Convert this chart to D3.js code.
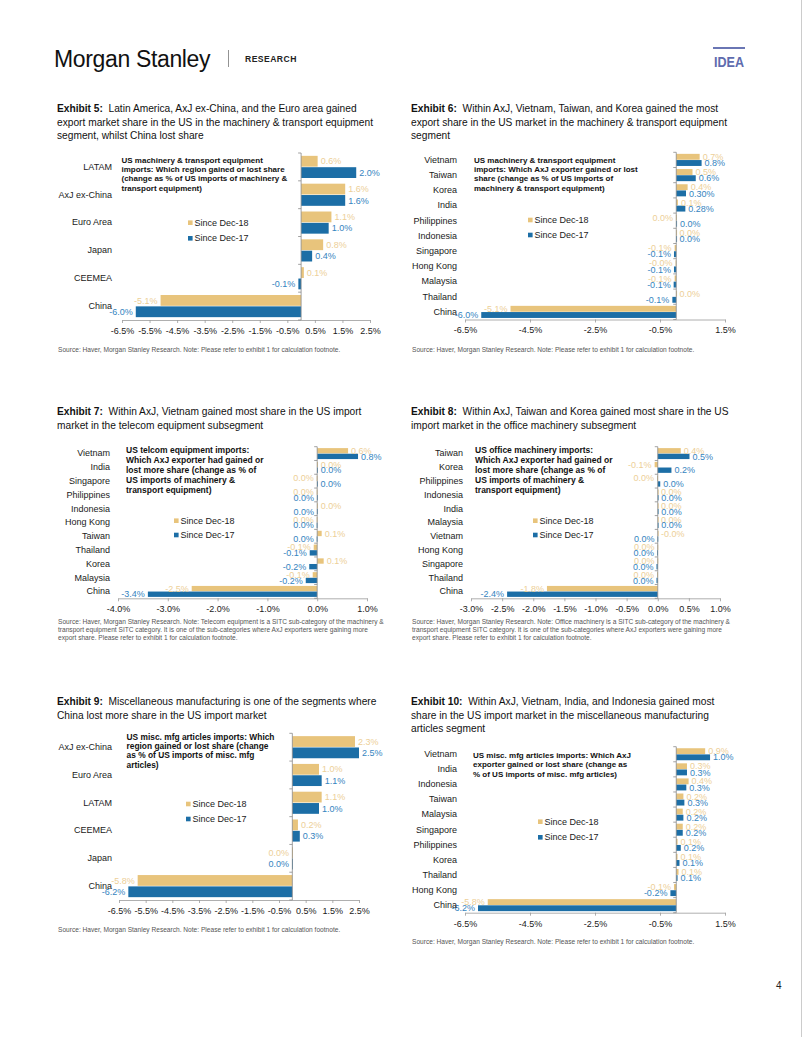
<!DOCTYPE html>
<html><head><meta charset="utf-8">
<script src="https://cdn.jsdelivr.net/npm/d3@7"></script>
<style>
body{margin:0;background:#fff}
svg{display:block;font-family:"Liberation Sans",Arial,sans-serif}
</style>
</head><body>
<svg id="page" width="802" height="1037"></svg>
<script>
// ---------------- DATA ----------------
const seriesNames = ["Since Dec-18", "Since Dec-17"];

const ex5Categories = ["LATAM","AxJ ex-China","Euro Area","Japan","CEEMEA","China"];
const ex5Dec18 = [0.6, 1.6, 1.1, 0.8, 0.1, -5.1];
const ex5Dec17 = [2.0, 1.6, 1.0, 0.4, -0.1, -6.0];
const ex5Labels18 = ["0.6%","1.6%","1.1%","0.8%","0.1%","-5.1%"];
const ex5Labels17 = ["2.0%","1.6%","1.0%","0.4%","-0.1%","-6.0%"];
const ex5Ticks = [-6.5,-5.5,-4.5,-3.5,-2.5,-1.5,-0.5,0.5,1.5,2.5];

const ex6Categories = ["Vietnam","Taiwan","Korea","India","Philippines","Indonesia","Singapore","Hong Kong","Malaysia","Thailand","China"];
const ex6Dec18 = [0.72, 0.5, 0.35, 0.05, -0.01, 0.01, -0.05, -0.02, -0.05, 0.01, -5.1];
const ex6Dec17 = [0.78, 0.6, 0.30, 0.28, 0.02, 0.01, -0.07, -0.07, -0.08, -0.12, -6.0];
const ex6Labels18 = ["0.7%","0.5%","0.4%","0.1%","0.0%","0.0%","-0.1%","-0.0%","-0.1%","0.0%","-5.1%"];
const ex6Labels17 = ["0.8%","0.6%","0.30%","0.28%","0.0%","0.0%","-0.1%","-0.1%","-0.1%","-0.1%","-6.0%"];
const ex6Ticks = [-6.5,-4.5,-2.5,-0.5,1.5];

const ex7Categories = ["Vietnam","India","Singapore","Philippines","Indonesia","Hong Kong","Taiwan","Thailand","Korea","Malaysia","China"];
const ex7Dec18 = [0.62, 0.01, -0.01, -0.01, 0.01, -0.01, 0.09, -0.07, 0.13, -0.09, -2.52];
const ex7Dec17 = [0.82, 0.01, 0.005, -0.005, -0.005, -0.01, -0.01, -0.15, -0.16, -0.23, -3.4];
const ex7Labels18 = ["0.6%","0.0%","0.0%","0.0%","0.0%","0.0%","0.1%","-0.1%","0.1%","-0.1%","-2.5%"];
const ex7Labels17 = ["0.8%","0.0%","0.0%","0.0%","0.0%","0.0%","0.0%","-0.1%","-0.2%","-0.2%","-3.4%"];
const ex7Ticks = [-4,-3,-2,-1,0,1];

const ex8Categories = ["Taiwan","Korea","Philippines","Indonesia","India","Malaysia","Vietnam","Hong Kong","Singapore","Thailand","China"];
const ex8Dec18 = [0.37, -0.05, -0.01, 0.005, 0.005, 0.005, 0.005, -0.005, -0.005, -0.01, -1.78];
const ex8Dec17 = [0.51, 0.22, 0.04, 0.01, 0.01, 0.01, -0.005, -0.01, -0.02, -0.02, -2.42];
const ex8Labels18 = ["0.4%","-0.1%","0.0%","0.0%","0.0%","0.0%","-0.0%","0.0%","0.0%","0.0%","-1.8%"];
const ex8Labels17 = ["0.5%","0.2%","0.0%","0.0%","0.0%","0.0%","0.0%","0.0%","0.0%","0.0%","-2.4%"];
const ex8Ticks = [-3,-2.5,-2,-1.5,-1,-0.5,0,0.5,1];

const ex9Categories = ["AxJ ex-China","Euro Area","LATAM","CEEMEA","Japan","China"];
const ex9Dec18 = [2.35, 1.0, 1.1, 0.21, -0.01, -5.8];
const ex9Dec17 = [2.5, 1.1, 1.0, 0.28, -0.01, -6.15];
const ex9Labels18 = ["2.3%","1.0%","1.1%","0.2%","0.0%","-5.8%"];
const ex9Labels17 = ["2.5%","1.1%","1.0%","0.3%","0.0%","-6.2%"];
const ex9Ticks = [-6.5,-5.5,-4.5,-3.5,-2.5,-1.5,-0.5,0.5,1.5,2.5];

const ex10Categories = ["Vietnam","India","Indonesia","Taiwan","Malaysia","Singapore","Philippines","Korea","Thailand","Hong Kong","China"];
const ex10Dec18 = [0.89, 0.33, 0.38, 0.22, 0.2, 0.2, 0.04, 0.04, 0.07, -0.07, -5.8];
const ex10Dec17 = [1.04, 0.33, 0.31, 0.25, 0.22, 0.2, 0.14, 0.1, 0.04, -0.18, -6.1];
const ex10Labels18 = ["0.9%","0.3%","0.4%","0.2%","0.2%","0.2%","0.1%","0.1%","0.1%","-0.1%","-5.8%"];
const ex10Labels17 = ["1.0%","0.3%","0.3%","0.3%","0.2%","0.2%","0.2%","0.1%","0.1%","-0.2%","-6.2%"];
const ex10Ticks = [-6.5,-4.5,-2.5,-0.5,1.5];

// ---------------- TEXT ----------------
const srcShort = ["Source: Haver, Morgan Stanley Research. Note: Please refer to exhibit 1 for calculation footnote."];
const texts = {
  ex5: {
    num: "Exhibit 5:",
    title: ["  Latin America, AxJ ex-China, and the Euro area gained","export market share in the US in the machinery & transport equipment","segment, whilst China lost share"],
    inner: ["US machinery & transport equipment","imports: Which region gained or lost share","(change as % of US imports of machinery &","transport equipment)"],
    source: srcShort
  },
  ex6: {
    num: "Exhibit 6:",
    title: ["  Within AxJ, Vietnam, Taiwan, and Korea gained the most","export share in the US market in the machinery & transport equipment","segment"],
    inner: ["US machinery & transport equipment","imports: Which AxJ exporter gained or lost","share (change as % of US imports of","machinery & transport equipment)"],
    source: srcShort
  },
  ex7: {
    num: "Exhibit 7:",
    title: ["  Within AxJ, Vietnam gained most share in the US import","market in the telecom equipment subsegment"],
    inner: ["US telcom equipment imports:","Which AxJ exporter had gained or","lost more share (change as % of","US imports of machinery &","transport equipment)"],
    source: ["Source: Haver, Morgan Stanley Research. Note: Telecom equipment is a SITC sub-category of the machinery &","transport equipment SITC category. It is one of the sub-categories where AxJ exporters were gaining more","export share. Please refer to exhibit 1 for calculation footnote."]
  },
  ex8: {
    num: "Exhibit 8:",
    title: ["  Within AxJ, Taiwan and Korea gained most share in the US","import market in the office machinery subsegment"],
    inner: ["US office machinery imports:","Which AxJ exporter had gained or","lost more share (change as % of","US imports of machinery &","transport equipment)"],
    source: ["Source: Haver, Morgan Stanley Research. Note: Office machinery is a SITC sub-category of the machinery &","transport equipment SITC category. It is one of the sub-categories where AxJ exporters were gaining more","export share. Please refer to exhibit 1 for calculation footnote."]
  },
  ex9: {
    num: "Exhibit 9:",
    title: ["  Miscellaneous manufacturing is one of the segments where","China lost more share in the US import market"],
    inner: ["US misc. mfg articles imports: Which","region gained or lost share (change","as % of US imports of misc. mfg","articles)"],
    source: srcShort
  },
  ex10: {
    num: "Exhibit 10:",
    title: ["  Within AxJ, Vietnam, India, and Indonesia gained most","share in the US import market in the miscellaneous manufacturing","articles segment"],
    inner: ["US misc. mfg articles imports: Which AxJ","exporter gained or lost share (change as","% of US imports of misc. mfg articles)"],
    source: srcShort
  }
};

// ---------------- STYLE / LAYOUT ----------------
const tanBar = "#E8C47C", blueBar = "#1C6EA6";
const tanLab = "#EDCF98", blueLab = "#3584C0";

const layouts = {
  ex5: {tx:57, ty:108.5, x0:122, x1:370, top:153, bottom:320, catRight:112, innerX:121.5, innerY:160, innerFs:8, innerLH:9.3, legX:188, legY:222.7, legGap:15.6, srcY:349.5},
  ex6: {tx:411, ty:108.5, x0:465, x1:725, top:152.3, bottom:319.5, catRight:457, innerX:474, innerY:160, innerFs:8, innerLH:9.3, legX:528, legY:220, legGap:15, srcY:349.5},
  ex7: {tx:57, ty:411.5, x0:118, x1:367, top:446.7, bottom:598.3, catRight:110, innerX:126, innerY:450, innerFs:8.5, innerLH:9.9, legX:174, legY:520.7, legGap:14.3, srcY:621.5},
  ex8: {tx:411, ty:411.5, x0:471, x1:720, top:446.7, bottom:598.3, catRight:463, innerX:475, innerY:450, innerFs:8.5, innerLH:9.9, legX:533, legY:520.7, legGap:14.3, srcY:621.5},
  ex9: {tx:57, ty:701.5, x0:119, x1:359, top:733.3, bottom:900, catRight:112, innerX:126.5, innerY:737, innerFs:8.4, innerLH:9.2, legX:186, legY:804, legGap:15, srcY:930},
  ex10:{tx:411, ty:701.5, x0:465, x1:725, top:746.7, bottom:912.7, catRight:457, innerX:473, innerY:755, innerFs:8, innerLH:9.6, legX:538, legY:821.7, legGap:15.6, srcY:942}
};

const datasets = {
  ex5: {cats:ex5Categories, s18:ex5Dec18, s17:ex5Dec17, l18:ex5Labels18, l17:ex5Labels17, ticks:ex5Ticks},
  ex6: {cats:ex6Categories, s18:ex6Dec18, s17:ex6Dec17, l18:ex6Labels18, l17:ex6Labels17, ticks:ex6Ticks},
  ex7: {cats:ex7Categories, s18:ex7Dec18, s17:ex7Dec17, l18:ex7Labels18, l17:ex7Labels17, ticks:ex7Ticks},
  ex8: {cats:ex8Categories, s18:ex8Dec18, s17:ex8Dec17, l18:ex8Labels18, l17:ex8Labels17, ticks:ex8Ticks},
  ex9: {cats:ex9Categories, s18:ex9Dec18, s17:ex9Dec17, l18:ex9Labels18, l17:ex9Labels17, ticks:ex9Ticks},
  ex10:{cats:ex10Categories, s18:ex10Dec18, s17:ex10Dec17, l18:ex10Labels18, l17:ex10Labels17, ticks:ex10Ticks}
};

const svg = d3.select("#page");
svg.append("rect").attr("width",802).attr("height",1037).attr("fill","#fff");

// ---------------- HEADER ----------------
svg.append("text").attr("x",54).attr("y",67).attr("font-size",23).attr("fill","#111")
  .attr("letter-spacing",-0.35).text("Morgan Stanley");
svg.append("line").attr("x1",228.5).attr("x2",228.5).attr("y1",50).attr("y2",67).attr("stroke","#777").attr("stroke-width",0.8);
svg.append("text").attr("x",245).attr("y",62).attr("font-size",8.6).attr("font-weight","bold")
  .attr("letter-spacing",0.45).attr("fill","#222").text("RESEARCH");
svg.append("rect").attr("x",713).attr("y",47).attr("width",32).attr("height",2).attr("fill","#6A76B4");
svg.append("text").attr("x",729).attr("y",67).attr("text-anchor","middle").attr("font-size",15)
  .attr("font-weight","bold").attr("fill","#5E6BAE").attr("textLength",30).attr("lengthAdjust","spacingAndGlyphs").text("IDEA");
svg.append("line").attr("x1",801.5).attr("x2",801.5).attr("y1",0).attr("y2",1037).attr("stroke","#ccc").attr("stroke-width",1);
svg.append("text").attr("x",776).attr("y",989).attr("font-size",10).attr("fill","#222").text("4");

// ---------------- CHARTS ----------------
function fmtTick(v){ return v.toFixed(1) + "%"; }

function drawChart(key){
  const d = datasets[key], L = layouts[key], T = texts[key];
  const g = svg.append("g").attr("class", key);

  // title
  T.title.forEach((line, i) => {
    const t = g.append("text").attr("x", L.tx).attr("y", L.ty + i*13.6).attr("dy","0.35em")
      .attr("font-size", 10.2).attr("fill","#111");
    if (i === 0) {
      t.append("tspan").attr("font-weight","bold").text(T.num);
      t.append("tspan").style("white-space","pre").text(line);
    } else t.text(line);
  });

  const x = d3.scaleLinear().domain([d.ticks[0], d.ticks[d.ticks.length-1]]).range([L.x0, L.x1]);
  const y = d3.scaleBand().domain(d.cats).range([L.top, L.bottom]).padding(0);
  const sub = d3.scaleBand().domain([0,1]).range([0, y.bandwidth()]).paddingInner(0.05).paddingOuter(0.25);

  const series = [
    {vals:d.s18, labs:d.l18, fill:tanBar, lab:tanLab},
    {vals:d.s17, labs:d.l17, fill:blueBar, lab:blueLab}
  ];

  // bottom axis
  const ax = g.append("g").attr("transform", `translate(0,${L.bottom})`)
    .call(d3.axisBottom(x).tickValues(d.ticks).tickFormat(fmtTick).tickSize(3).tickPadding(4.5).tickSizeOuter(0));
  ax.select(".domain").attr("stroke","#9a9a9a").attr("stroke-width",0.8);
  ax.selectAll(".tick line").attr("stroke","#9a9a9a").attr("stroke-width",0.8);
  ax.selectAll(".tick text").attr("font-size",9).attr("fill","#1a1a1a").attr("font-family","Liberation Sans, Arial, sans-serif");

  // bars
  series.forEach((s, si) => {
    g.append("g").selectAll("rect").data(d.cats).join("rect")
      .attr("x", (c,i) => x(Math.min(0, s.vals[i])))
      .attr("width", (c,i) => Math.max(0.8, Math.abs(x(s.vals[i]) - x(0))))
      .attr("y", c => y(c) + sub(si))
      .attr("height", sub.bandwidth())
      .attr("fill", s.fill);
  });

  // zero axis with band ticks
  const za = g.append("g").attr("transform", `translate(${x(0)},0)`);
  za.append("line").attr("y1", L.top).attr("y2", L.bottom).attr("stroke","#8a8a8a").attr("stroke-width",0.8);
  const bounds = d.cats.map(c => y(c)).concat([L.bottom]);
  za.selectAll("line.bt").data(bounds).join("line").attr("class","bt")
    .attr("x1",-3).attr("x2",0).attr("y1", b => b).attr("y2", b => b)
    .attr("stroke","#8a8a8a").attr("stroke-width",0.8);

  // data labels
  series.forEach((s, si) => {
    g.append("g").selectAll("text").data(d.cats).join("text")
      .attr("x", (c,i) => s.vals[i] >= 0 ? x(s.vals[i]) + 3 : x(s.vals[i]) - 3)
      .attr("text-anchor", (c,i) => s.vals[i] >= 0 ? "start" : "end")
      .attr("y", c => y(c) + sub(si) + sub.bandwidth()/2)
      .attr("dy","0.35em")
      .attr("font-size", 9).attr("fill", s.lab)
      .text((c,i) => s.labs[i]);
  });

  // category axis labels
  const ca = g.append("g").attr("transform", `translate(${L.catRight},0)`)
    .call(d3.axisLeft(y).tickSize(0).tickPadding(0));
  ca.select(".domain").remove();
  ca.selectAll(".tick text").attr("font-size",9).attr("fill","#1a1a1a").attr("font-family","Liberation Sans, Arial, sans-serif");

  // inner title
  T.inner.forEach((line, i) => {
    g.append("text").attr("x", L.innerX).attr("y", L.innerY + i*L.innerLH).attr("dy","0.35em")
      .attr("font-size", L.innerFs).attr("font-weight","bold").attr("fill","#111").text(line);
  });

  // legend
  seriesNames.forEach((n, i) => {
    const ly = L.legY + i*L.legGap;
    g.append("rect").attr("x", L.legX).attr("y", ly - 2.3).attr("width", 4.6).attr("height", 4.6)
      .attr("fill", i === 0 ? tanBar : blueBar);
    g.append("text").attr("x", L.legX + 6.5).attr("y", ly).attr("dy","0.35em")
      .attr("font-size", 9).attr("fill","#1a1a1a").text(n);
  });

  // source
  T.source.forEach((line, i) => {
    g.append("text").attr("x", L.tx + 1).attr("y", L.srcY + i*8.3).attr("dy","0.35em")
      .attr("font-size", 6.6).attr("fill","#555").text(line);
  });
}

["ex5","ex6","ex7","ex8","ex9","ex10"].forEach(drawChart);
</script>
</body></html>
